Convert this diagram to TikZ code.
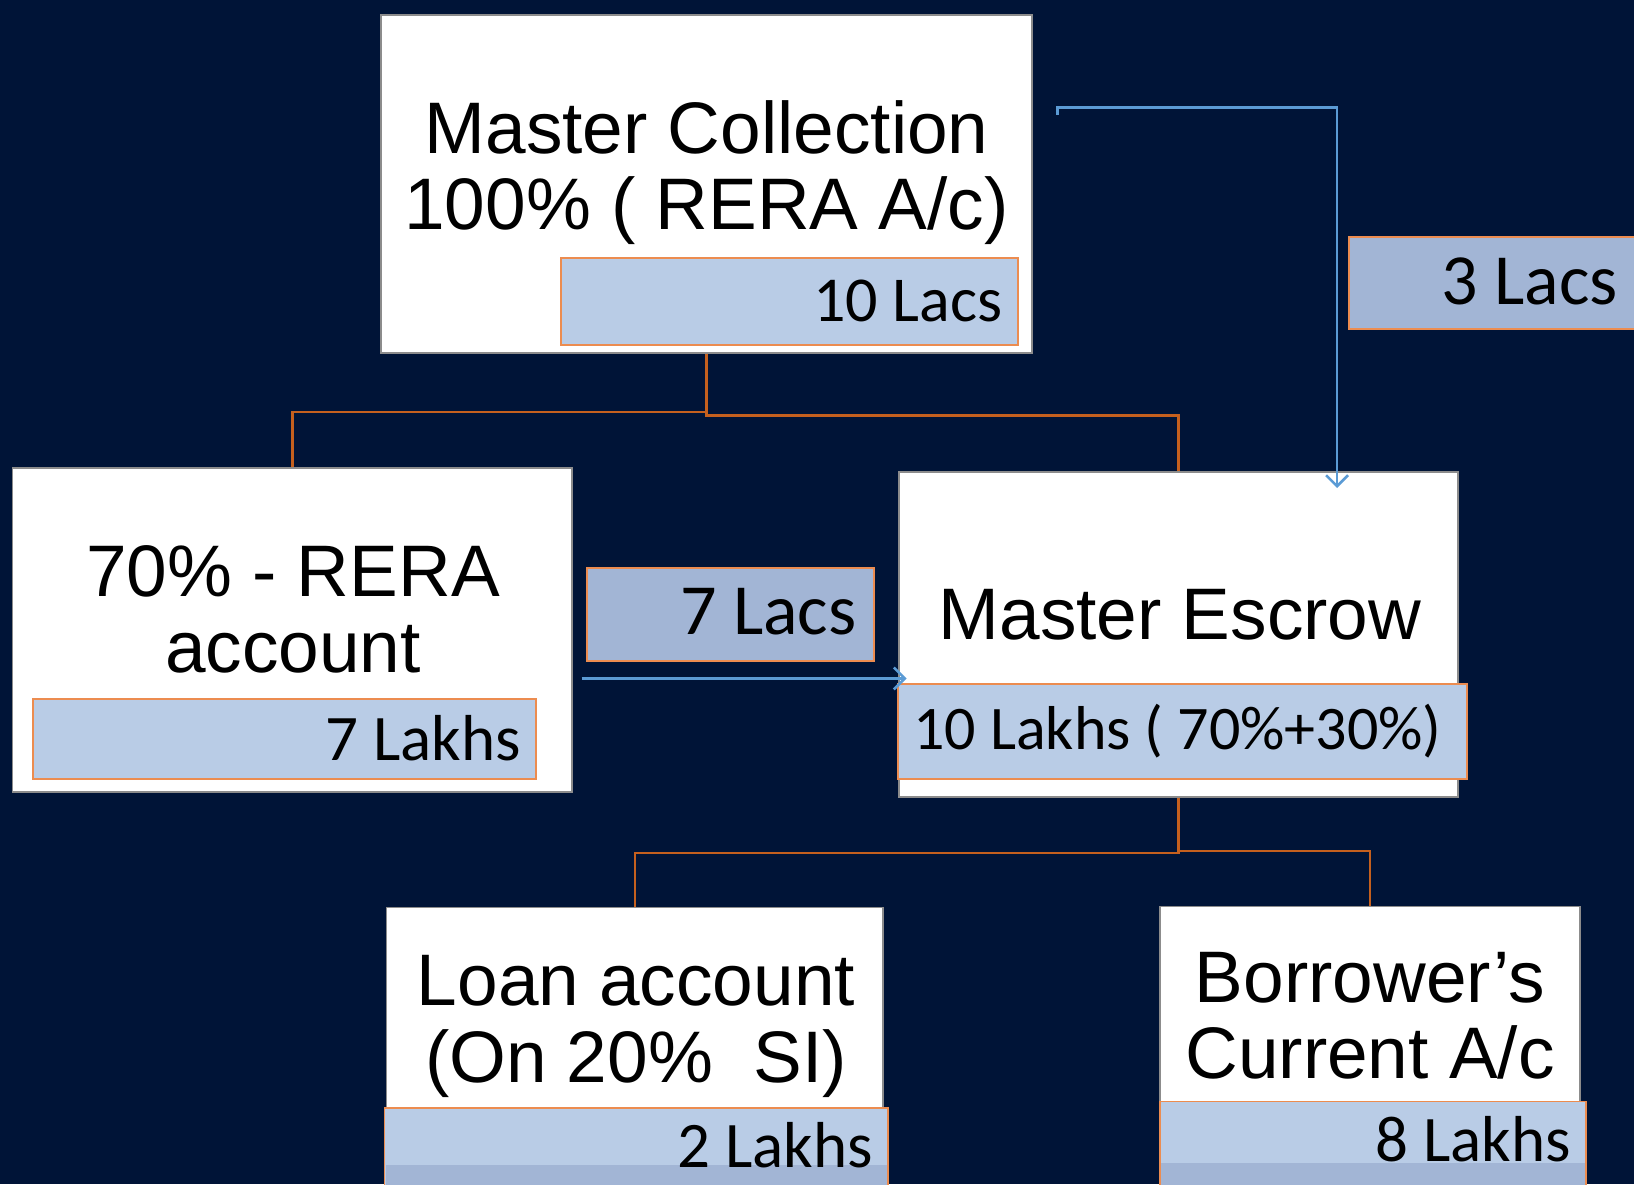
\documentclass[tikz,border=0pt]{standalone}
\usepackage{fontspec}
\setmainfont{Liberation Sans}
\newfontfamily\calfont{Carlito}
\usetikzlibrary{arrows.meta}

\definecolor{navy}{RGB}{0,20,55}
\definecolor{barlight}{RGB}{185,204,230}
\definecolor{bardark}{RGB}{162,181,213}
\definecolor{barline}{RGB}{236,140,80}
\definecolor{linkline}{RGB}{197,96,30}
\definecolor{flowline}{RGB}{91,155,213}
\definecolor{boxline}{RGB}{140,140,140}

\tikzset{
  wbox/.style={draw=boxline, line width=1.2pt, fill=white, inner sep=0pt},
  bar/.style={draw=barline, line width=1.5pt, fill=barlight, inner sep=0pt},
  tag/.style={draw=barline, line width=1.5pt, fill=bardark, inner sep=0pt},
  lbl/.style={font=\fontsize{73}{76}\selectfont, text=black, inner sep=0pt, anchor=base},
  amt/.style={font=\calfont\fontsize{65}{70}\selectfont, text=black, inner sep=0pt},
  link/.style={draw=linkline, line width=2.5pt},
  flow/.style={draw=flowline, line width=2.5pt, -{Straight Barb[length=11pt,width=22pt,line width=2.5pt]}},
}

\begin{document}
\begin{tikzpicture}[x=1pt,y=-1pt]
  \useasboundingbox (0,0) rectangle (1634,1184);
  \fill[navy] (0,0) rectangle (1634,1184);
  \clip (0,0) rectangle (1634,1184);

  % account boxes
  \node[wbox, minimum width=651pt, minimum height=338pt] (mc) at (706.5,184) {};
  \node[wbox, minimum width=559.5pt, minimum height=324pt] (rera) at (292.25,630) {};
  \node[wbox, minimum width=559pt, minimum height=325pt] (escrow) at (1178.5,634.5) {};
  \node[wbox, minimum width=496.4pt, minimum height=292.4pt] (loan) at (634.8,1053.8) {};
  \node[wbox, minimum width=420pt, minimum height=293.4pt] (borrower) at (1370,1053.3) {};

  % tree links
  \draw[link] (mc.south) -- ++(0,58.6) -| (rera.north);
  \draw[link] (mc.south) -- ++(0,61.8) -| (escrow.north);
  \draw[link] (escrow.south) -- ++(0,55.4) -| (loan.north);
  \draw[link] (escrow.south) -- ++(0,53.4) -| (borrower.north);

  % box titles
  \node[lbl] (mcl1) at (706.6,153) {Master Collection};
  \node[lbl] (mcl2) at (706.6,229) {100\% ( RERA A/c)};
  \node[lbl] (rl1) at (293,596) {70\% - RERA};
  \node[lbl] (rl2) at (293,672) {account};
  \node[lbl] (el1) at (1180,639) {Master Escrow};
  \node[lbl] (ll1) at (636,1005.6) {Loan account};
  \node[lbl] (ll2) at (636,1082) {(On 20\%\ \ SI)};
  \node[lbl] (bl1) at (1370,1002.5) {Borrower’s};
  \node[lbl] (bl2) at (1370,1078.5) {Current A/c};

  % amount bars
  \node[bar, minimum width=457pt, minimum height=87pt] (mcval) at (789.5,301.5) {};
  \node[bar, minimum width=503pt, minimum height=80pt] (reraval) at (284.5,739) {};
  \node[bar, minimum width=569pt, minimum height=95pt] (escrowval) at (1182.5,731.5) {};
  \node[bar, minimum width=503.5pt, minimum height=92pt] (loanval) at (636.25,1154) {};
  \node[bar, minimum width=426pt, minimum height=98.5pt] (borrowerval) at (1373,1150.75) {};
  \fill[bardark] (385.5,1165) rectangle (887,1200);
  \fill[bardark] (1161,1163) rectangle (1585,1200);

  % transfer tags
  \node[tag, minimum width=311pt, minimum height=92pt] (threelacs) at (1504.5,283) {};
  \node[tag, minimum width=287pt, minimum height=93pt] (sevenlacs) at (730.5,614.5) {};

  % amounts
  \node[amt, anchor=base east, font=\calfont\fontsize{64}{70}\selectfont] (mcamt) at (1002.5,321) {10 Lacs};
  \node[amt, anchor=base east, font=\calfont\fontsize{72}{76}\selectfont] (threeamt) at (1618,304) {3 Lacs};
  \node[amt, anchor=base east, font=\calfont\fontsize{72}{76}\selectfont] (sevenamt) at (856.6,634.6) {7 Lacs};
  \node[amt, anchor=base east] (reraamt) at (521,760) {7 Lakhs};
  \node[amt, anchor=base west, font=\calfont\fontsize{62}{70}\selectfont] (escrowamt) at (913,749) {10 Lakhs ( 70\%+30\%)};
  \node[amt, anchor=base east] (loanamt) at (873,1167) {2 Lakhs};
  \node[amt, anchor=base east] (borroweramt) at (1571,1161) {8 Lakhs};

  % fund transfers
  \coordinate (mcout) at (1057.7,114.6);
  \coordinate (escin) at (1337,488);
  \draw[flow] (mcout) -- ++(0,-7.3) -| (escin);
  \coordinate (reraout) at (581.5,678.4);
  \coordinate (escleft) at (906.6,678.4);
  \draw[flow] (reraout) -- (escleft);
\end{tikzpicture}
\end{document}
